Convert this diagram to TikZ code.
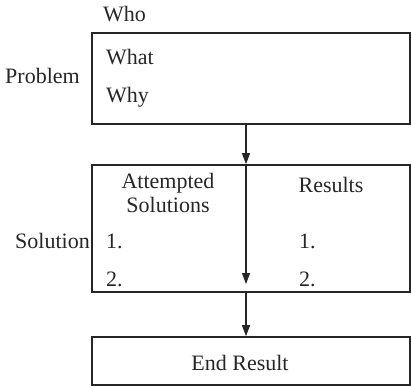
\documentclass[tikz,border=0pt]{standalone}
\usepackage{fontspec}
\setmainfont{Liberation Serif}
\usetikzlibrary{arrows.meta,calc}
\begin{document}
\begin{tikzpicture}[x=1pt,y=-1pt,
  panel/.style={draw=black!85, line width=1.7pt, rectangle, minimum width=318pt, inner sep=0pt},
  arr/.style={draw=black!85, line width=1.2pt, -{Triangle[length=11pt,width=8pt]}},
  lbl/.style={font=\fontsize{22}{25}\selectfont, inner sep=0pt, text=black!85},
  ]
  \useasboundingbox (0,0) rectangle (411,386);

  % three stacked panels
  \node[panel, minimum height=91pt]  (prob) at (251,78.5) {};
  \node[panel, minimum height=127pt] (sol)  at (251,228.5) {};
  \node[panel, minimum height=48pt]  (fin)  at (251,361) {};

  % vertical spine through the flow
  \coordinate (spine) at (246,0);
  \coordinate (divend) at (246,284);

  \draw[arr] (prob.south -| spine) -- (sol.north -| spine);
  \draw[arr] (sol.north -| spine) -- (divend);
  \draw[arr] (sol.south -| spine) -- (fin.north -| spine);

  % labels of the problem panel
  \node[lbl, anchor=west] (who)  at (103,14) {Who};
  \node[lbl, anchor=west] (what) at (106,57) {What};
  \node[lbl, anchor=west] (why)  at (106,97) {Why};
  \node[lbl, anchor=west] (plab) at (5,76)   {Problem};

  % labels of the solution panel
  \node[lbl, align=center] (att) at (168,193) {Attempted\\[-1pt]Solutions};
  \node[lbl] (res) at (331,185) {Results};
  \node[lbl, anchor=east] (slab) at (90,241) {Solution};
  \node[lbl, anchor=west] (l1) at (106,241) {1.};
  \node[lbl, anchor=west] (l2) at (106,279) {2.};
  \node[lbl, anchor=west] (r1) at (299,241) {1.};
  \node[lbl, anchor=west] (r2) at (299,279) {2.};

  % final panel
  \node[lbl] (endres) at (240,363) {End Result};
\end{tikzpicture}
\end{document}
